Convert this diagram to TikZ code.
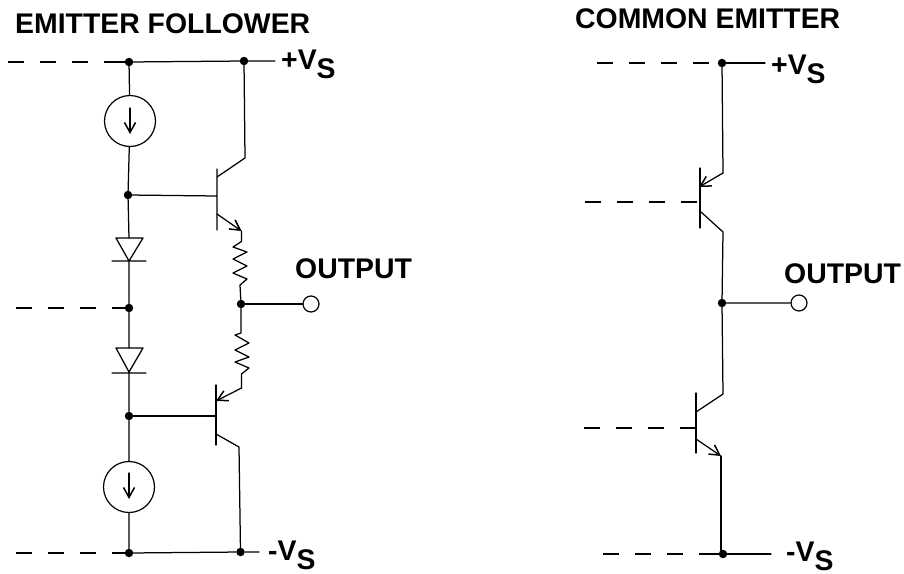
\documentclass[tikz,border=0pt]{standalone}
\usepackage{fontspec}
\setmainfont{Liberation Sans}
\usetikzlibrary{arrows.meta}
\tikzset{
 wire/.style={line width=1.25pt,line cap=round,line join=round},
 dsh/.style={line width=2pt},
 dotn/.style={circle,fill=black,inner sep=0pt,minimum size=8.5pt},
 term/.style={circle,draw,line width=1.2pt,inner sep=0pt,minimum size=16pt,fill=white},
 src/.style={circle,draw,line width=1.2pt,inner sep=0pt,minimum size=51pt},
 tip/.style={-{Straight Barb[length=10pt,width=11pt,line width=1.5pt]}},
 lab/.style={font=\bfseries\fontsize{28.4}{30}\selectfont,inner sep=0pt,anchor=base west},
}
\newcommand{\vsub}{\raisebox{-9pt}{S}}
\begin{document}
\begin{tikzpicture}[x=1pt,y=-1pt]
\useasboundingbox (0,0) rectangle (904,573);
% text
\node[lab] (t1) at (15,33) {EMITTER FOLLOWER};
\node[lab] (t2) at (575,28) {COMMON EMITTER};
\node[lab] (o1) at (295,278) {OUTPUT};
\node[lab] (o2) at (784,283) {OUTPUT};
\node[lab] (v1) at (281,69) {+V\vsub};
\node[lab] (v2) at (268,560) {-V\vsub};
\node[lab] (v3) at (771,74) {+V\vsub};
\node[lab] (v4) at (786,561) {-V\vsub};
% left nodes
\node[dotn] (a) at (129,62) {};
\node[dotn] (b) at (244,61) {};
\coordinate (bend) at (275,61);
\node[src] (s1) at (130,121) {};
\node[dotn] (c) at (128,195) {};
\node[dotn] (d) at (129,308) {};
\node[dotn] (e) at (241,304) {};
\node[term] (o) at (311,304) {};
\node[dotn] (f) at (129,416) {};
\node[src] (s2) at (129,487) {};
\node[dotn] (g) at (129,553) {};
\node[dotn] (h) at (240.5,552) {};
\coordinate (hend) at (259,552);
\draw[wire] (a) -- (b) -- (bend);
\draw[wire] (a) -- (s1) -- (c);
\draw[wire] (c) -- (129,238) (129,261) -- (d) -- (129,348) (129,372) -- (f) -- (s2) -- (g) -- (h) -- (hend);
\draw[wire] (e) -- (o);
% sources arrows
\draw[wire,tip] (130,108) -- (130,134);
\draw[wire,tip] (129,473) -- (129,499);
% diodes
\draw[wire] (116,238) -- (143,238) -- (129,261) -- cycle (112,261) -- (146,261);
\draw[wire] (116,348) -- (143,348) -- (129,372) -- cycle (112,373) -- (146,373);
% upper npn
\draw[wire] (c) -- (217,196) (217,169) -- (217,230);
\draw[wire] (217,177) -- (245,158) -- (b);
\draw[wire,tip] (217,214) -- (241.5,231);
\draw[wire] (241.5,231) -- (241.5,241.5) -- (233,247) -- (247,252) -- (233,259) -- (247,266) -- (233,273) -- (247,279) -- (240,285) -- (e);
% lower pnp
\draw[wire] (e) -- (241,333) -- (235,335) -- (249,343) -- (235,350) -- (249,357) -- (235,362) -- (249,368) -- (241.5,374) -- (241.5,388);
\draw[wire,tip] (241.5,388) -- (216,401);
\draw[wire] (f) -- (216,416) (216,385) -- (216,445);
\draw[wire] (216,434) -- (239,447) -- (h);
% left dashes
\draw[dsh] (8,62) -- (24,62) (40,62) -- (56,62) (72,62) -- (88,62) (104,62) -- (a);
\draw[dsh] (16,308) -- (32,308) (48,308) -- (64,308) (80,308) -- (96,308) (112,308) -- (d);
\draw[dsh] (16,553) -- (32,553) (48,553) -- (64,553) (80,553) -- (96,553) (112,553) -- (g);
% right
\node[dotn] (ra) at (722,63) {};
\coordinate (raend) at (765,63);
\node[dotn] (rm) at (722,303) {};
\node[term] (ro) at (799,303) {};
\node[dotn] (rb) at (723,554) {};
\coordinate (rbend) at (771,554);
\draw[wire] (ra) -- (raend);
\draw[wire] (ra) -- (723,173);
\draw[wire,tip] (723,173) -- (699,187);
\draw[wire] (700,168) -- (700,228);
\draw[wire] (701,212) -- (723,232) -- (rm) -- (ro);
\draw[wire] (rm) -- (723,394) -- (696,412);
\draw[wire] (696,393) -- (696,453);
\draw[wire,tip] (696,439) -- (721,456);
\draw[wire] (721,456) -- (721,554) (rb) -- (rbend);
\draw[dsh] (597,63) -- (613,63) (629,63) -- (645,63) (661,63) -- (677,63) (693,63) -- (709,63);
\draw[dsh] (585,202) -- (601,202) (617,202) -- (633,202) (649,202) -- (665,202) (681,202) -- (697,202);
\draw[dsh] (584,428) -- (600,428) (616,428) -- (632,428) (648,428) -- (664,428) (680,428) -- (696,428);
\draw[dsh] (603,554) -- (619,554) (635,554) -- (651,554) (667,554) -- (683,554) (699,554) -- (rb);
\end{tikzpicture}
\end{document}
